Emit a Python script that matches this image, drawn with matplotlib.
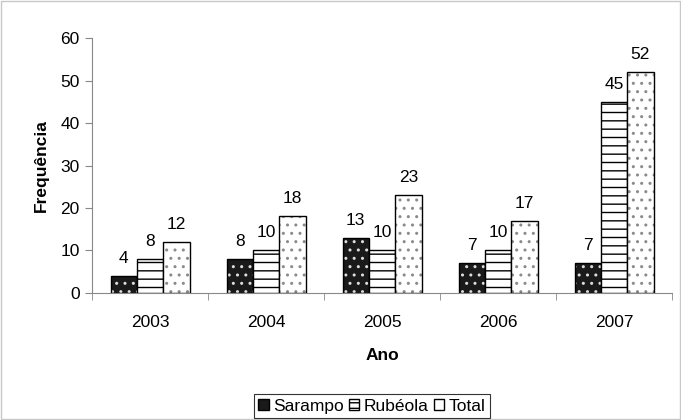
import matplotlib
matplotlib.use("Agg")
import matplotlib.pyplot as plt
import numpy as np
from matplotlib.patches import Rectangle

plt.rcParams['font.family'] = ['Liberation Sans', 'DejaVu Sans']
plt.rcParams['hatch.linewidth'] = 1.0

years = ["2003", "2004", "2005", "2006", "2007"]
sarampo = [4, 8, 13, 7, 7]
rubeola = [8, 10, 10, 10, 45]
total = [12, 18, 23, 17, 52]

FS = 12.5

fig = plt.figure(figsize=(6.81, 4.20), dpi=100)
fig.patches.append(Rectangle((0.002, 0.002), 0.996, 0.996, transform=fig.transFigure,
                             fill=False, edgecolor='#c8c8c8', linewidth=1))
ax = fig.add_axes([0.1351, 0.3024, 0.8517, 0.6071])

x = np.arange(len(years))
w = 0.227
# Sarampo: black with white dots
ax.bar(x - w, sarampo, w, color='#1a1a1a', edgecolor='#dddddd', hatch='..', linewidth=0)
ax.bar(x - w, sarampo, w, fill=False, edgecolor='black', linewidth=1.0)
# Rubeola: horizontal lines
ax.bar(x, rubeola, w, color='white', edgecolor='black', hatch='--', linewidth=1.0)
# Total: sparse dots
ax.bar(x + w, total, w, color='white', edgecolor='#8a8a8a', hatch='..', linewidth=0)
ax.bar(x + w, total, w, fill=False, edgecolor='black', linewidth=1.0)

for xs, vals in ((x - w, sarampo), (x, rubeola), (x + w, total)):
    for xi, v in zip(xs, vals):
        ax.text(xi, v + 2.4, str(v), ha='center', va='bottom', fontsize=FS)

ax.set_xlim(-0.5, 4.5)
ax.set_ylim(0, 60)
ax.set_yticks(range(0, 61, 10))
ax.set_xticks(x)
ax.set_xticklabels(years, fontsize=FS)
ax.set_xticks(np.arange(-0.5, 5.0, 1.0), minor=True)
ax.tick_params(axis='x', which='major', length=0, pad=16)
ax.tick_params(axis='x', which='minor', length=5, color='#888888')
ax.tick_params(axis='y', labelsize=FS, length=5, color='#888888', pad=4)
for s in ['top', 'right']:
    ax.spines[s].set_visible(False)
for s in ['left', 'bottom']:
    ax.spines[s].set_color('#888888')

ax.set_ylabel('Frequência', fontsize=FS, fontweight='bold', labelpad=8)
ax.set_xlabel('Ano', fontsize=FS, fontweight='bold', labelpad=13)

h1 = Rectangle((0, 0), 1, 1, facecolor='#1a1a1a', edgecolor='black')
h2 = Rectangle((0, 0), 1, 1, facecolor='white', edgecolor='black', hatch='---')
h3 = Rectangle((0, 0), 1, 1, facecolor='white', edgecolor='black')
leg = fig.legend([h1, h2, h3], ['Sarampo', 'Rubéola', 'Total'], loc='center',
                 bbox_to_anchor=(0.546, 0.033), ncol=3, fontsize=FS, frameon=True,
                 fancybox=False, edgecolor='black', handlelength=0.6, handleheight=0.6,
                 handletextpad=0.25, columnspacing=0.3, borderpad=0.25, borderaxespad=0.2)
leg.get_frame().set_linewidth(0.8)

fig.savefig('out.png', dpi=100)
